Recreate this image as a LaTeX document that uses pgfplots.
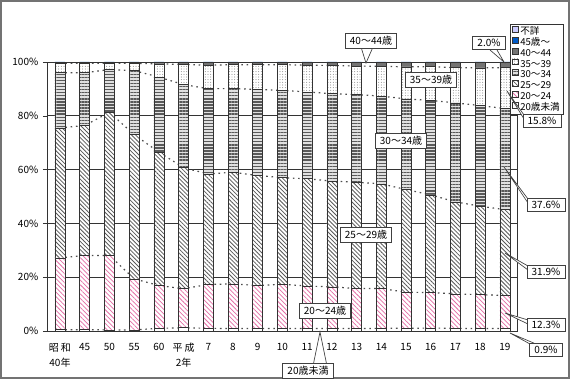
\documentclass[border=0pt]{standalone}
\usepackage{fontspec}
\setmainfont{Noto Sans CJK JP}
\usepackage{pgfplots}
\pgfplotsset{compat=1.18}
\usepackage{pgfplotstable}
\usetikzlibrary{patterns.meta}

\definecolor{pinkc}{RGB}{228,110,165}
\definecolor{bluec}{RGB}{0,90,200}
\definecolor{lavc}{RGB}{204,204,255}

\pgfplotstableread{
x u20 a20 a25 a30 a35 a40 a45 unk
0  0.5 26.7 48.3 20.5  3.5 0.4 0.1 0.0
1  0.5 27.6 48.3 19.6  3.5 0.4 0.1 0.0
2  0.4 27.7 53.2 15.9  2.3 0.4 0.1 0.0
3  0.4 19.0 53.6 23.8  2.7 0.4 0.1 0.0
4  1.0 15.9 49.6 27.9  4.9 0.6 0.1 0.0
5  1.2 14.5 45.0 30.9  7.5 0.8 0.1 0.0
6  1.0 16.3 41.1 31.7  8.7 1.1 0.1 0.0
7  0.9 16.6 41.5 31.1  8.9 0.9 0.1 0.0
8  0.9 16.0 40.9 32.0  9.2 0.9 0.1 0.0
9  0.9 16.5 39.6 32.4  9.6 0.9 0.1 0.0
10 0.9 15.8 39.9 32.3  9.9 1.1 0.1 0.0
11 0.9 15.5 39.3 32.5 10.5 1.2 0.1 0.0
12 0.9 14.9 39.5 32.6 10.6 1.4 0.1 0.0
13 1.0 14.8 38.9 32.6 11.1 1.5 0.1 0.0
14 1.0 13.4 38.2 33.7 11.9 1.7 0.1 0.0
15 1.1 13.2 36.3 35.1 12.6 1.6 0.1 0.0
16 1.0 12.8 34.2 36.8 13.1 2.0 0.1 0.0
17 0.9 12.6 32.9 37.4 14.0 2.1 0.1 0.0
18 0.9 12.3 31.9 37.6 15.2 2.0 0.1 0.0
}\data

\tikzset{
  sl/.style={no marks, black!70, line width=0.9pt, dash pattern=on 1.2pt off 2.8pt},
  lab/.style={draw=black!75, fill=white, line width=0.6pt, font=\fontsize{7.5}{9}\selectfont, inner xsep=3.5pt, inner ysep=2pt},
  wedge/.style={fill=white, draw=black!75, line width=0.5pt},
}
\pgfplotsset{
  myleg/.style={legend image code/.code={\draw[##1, draw=black!80, line width=0.4pt] (0pt,-0.2pt) rectangle (4.4pt,4.2pt);}},
}

\begin{document}
\begin{tikzpicture}
\begin{scope}[x=0.75pt,y=-0.75pt]
\useasboundingbox (0,0) rectangle (576,381);
\draw[black!55, line width=1.5pt] (1.5,1.5) rectangle (569,378);
\end{scope}

% series lines + grid
\begin{axis}[
  at={(47*0.75pt,-331*0.75pt)}, anchor=south west,
  scale only axis, width=352.5pt, height=201.75pt,
  xmin=-0.526, xmax=18.49, ymin=0, ymax=100,
  stack plots=y,
  ytick={20,40,60,80}, yticklabels={}, xtick=\empty,
  ymajorgrids, grid style={black!80, line width=0.5pt},
  major tick length=0pt, axis line style={draw=none},
]
\addplot[sl] table[x=x,y=u20]{\data};
\addplot[sl] table[x=x,y=a20]{\data};
\addplot[sl] table[x=x,y=a25]{\data};
\addplot[sl] table[x=x,y=a30]{\data};
\addplot[sl] table[x=x,y=a35]{\data};
\addplot[sl] table[x=x,y=a40]{\data};
\end{axis}

% bars
\begin{axis}[
  at={(47*0.75pt,-331*0.75pt)}, anchor=south west,
  scale only axis, width=352.5pt, height=201.75pt,
  xmin=-0.526, xmax=18.49, ymin=0, ymax=100,
  ybar stacked, bar width=7.5pt,
  ytick={0,20,40,60,80,100}, yticklabels={0\%,20\%,40\%,60\%,80\%,100\%},
  xtick={0,...,18},
  xticklabels={{昭\hspace{1.5pt}和\\40年},45,50,55,60,{平\hspace{1.5pt}成\\2年},7,8,9,10,11,12,13,14,15,16,17,18,19},
  xtick style={draw=none}, ytick style={black!80},
  tick align=outside, major tick length=3pt, ytick pos=left,
  axis line style={black!80, line width=0.6pt},
  tick label style={font=\fontsize{7.5}{11}\selectfont},
  xticklabel style={align=center, yshift=-2.5pt},
  every axis plot/.append style={draw=black!80, line width=0.45pt},
  reverse legend,
  legend style={at={(0.985,1.1413)}, anchor=north west, draw=black!80, line width=0.5pt,
    font=\fontsize{7.2}{8}\selectfont, inner xsep=1.2pt, inner ysep=1.2pt, row sep=0pt,
    nodes={text height=5.3pt, text depth=1.2pt, inner ysep=0.5pt, inner xsep=1.5pt},
    cells={anchor=west}},
]
\addplot[fill=white, myleg] table[x=x,y=u20]{\data};
\addlegendentry{20歳未満}
\addplot[fill=white, postaction={pattern={Lines[angle=-45,distance=2.4pt,line width=0.55pt]}, pattern color=pinkc}, myleg] table[x=x,y=a20]{\data};
\addlegendentry{20～24}
\addplot[fill=white, postaction={pattern={Lines[angle=-45,distance=2.2pt,line width=0.6pt]}, pattern color=black!65}, myleg] table[x=x,y=a25]{\data};
\addlegendentry{25～29}
\addplot[fill=black!12, postaction={pattern={Lines[angle=0,distance=2.3pt,line width=1.05pt]}, pattern color=black!65}, myleg] table[x=x,y=a30]{\data};
\addlegendentry{30～34}
\addplot[fill=white, postaction={pattern={Dots[distance=2pt,radius=0.35pt]}, pattern color=black!60}, myleg] table[x=x,y=a35]{\data};
\addlegendentry{35～39}
\addplot[fill=black!55, myleg] table[x=x,y=a40]{\data};
\addlegendentry{40～44}
\addplot[fill=bluec, myleg] table[x=x,y=a45]{\data};
\addlegendentry{45歳～}
\addplot[fill=lavc, myleg] table[x=x,y=unk]{\data};
\addlegendentry{不詳}
\end{axis}

\begin{scope}[x=0.75pt,y=-0.75pt]
\filldraw[wedge] (361,47) -- (366,63) -- (373,47);
\node[lab] at (371,41) {40～44歳};
\filldraw[wedge] (490,50) -- (504,62) -- (497,50);
\node[lab] at (489,43) {2.0\%};
\node[lab] at (431,80) {35～39歳};
\node[lab] at (401,141) {30～34歳};
\node[lab] at (366,235) {25～29歳};
\node[lab] at (325,311) {20～24歳};
\filldraw[wedge] (313,366) -- (320,332) -- (327,366);
\node[lab] at (308,371) {20歳未満};
\filldraw[wedge] (524,115) -- (507,91) -- (524,119);
\node[lab] at (542,121) {15.8\%};
\filldraw[wedge] (528,199) -- (504,167) -- (528,203);
\node[lab] at (546,205) {37.6\%};
\filldraw[wedge] (528,266) -- (505,253) -- (528,270);
\node[lab] at (546,272) {31.9\%};
\filldraw[wedge] (528,320) -- (505,313) -- (528,324);
\node[lab] at (546,325) {12.3\%};
\filldraw[wedge] (530,344) -- (510,333) -- (536,344);
\node[lab] at (546,350) {0.9\%};
\end{scope}
\end{tikzpicture}
\end{document}
